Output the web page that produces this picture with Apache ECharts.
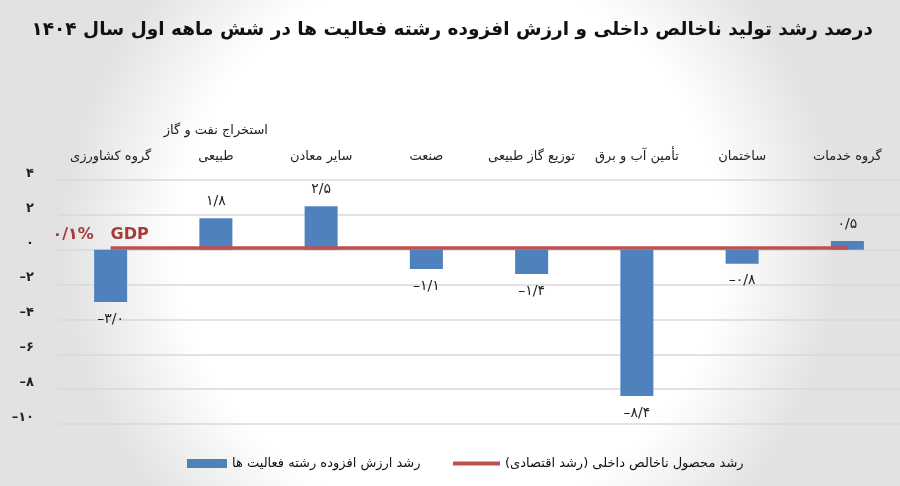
<!DOCTYPE html>
<html>
<head>
<meta charset="utf-8">
<script src="https://cdn.jsdelivr.net/npm/echarts@6/dist/echarts.min.js"></script>
<style>
html, body { margin: 0; padding: 0; }
#chart { width: 900px; height: 486px; }
</style>
</head>
<body>
<div id="chart"></div>
<script>
/* داده ها */
var categories = ['گروه کشاورزی', 'استخراج نفت و گاز\nطبیعی', 'سایر معادن', 'صنعت',
    'توزیع گاز طبیعی', 'تأمین آب و برق', 'ساختمان', 'گروه خدمات'];
var sectorGrowth = [-3.0, 1.8, 2.5, -1.1, -1.4, -8.4, -0.8, 0.5];
var gdpGrowth = [0.1, 0.1, 0.1, 0.1, 0.1, 0.1, 0.1, 0.1];
var yTicks = { min: -10, max: 4, interval: 2 };

var barName = 'رشد ارزش افزوده رشته فعالیت ها';
var lineName = 'رشد محصول ناخالص داخلی (رشد اقتصادی)';
var titleText = 'درصد رشد تولید ناخالص داخلی و ارزش افزوده رشته فعالیت ها در شش ماهه اول سال ۱۴۰۴';

var FONT = 'DejaVu Sans';

/* تبدیل عدد به ارقام فارسی */
function toFa(str) {
    var d = '۰۱۲۳۴۵۶۷۸۹';
    return String(str).replace(/[0-9]/g, function (c) { return d[+c]; });
}
function fmtNum(v, dec) {
    var s = toFa(Math.abs(v).toFixed(dec)).replace('.', '/');
    return v < 0 ? '–' + s : s;
}

/* داده ستون ها با جای برچسب */
var barData = [];
for (var i = 0; i < sectorGrowth.length; i++) {
    barData.push({
        value: sectorGrowth[i],
        label: { position: sectorGrowth[i] >= 0 ? 'top' : 'bottom' }
    });
}
/* خط GDP، برچسب فقط روی نقطه اول */
var lineData = [];
for (var j = 0; j < gdpGrowth.length; j++) {
    if (j === 0) {
        lineData.push({
            value: gdpGrowth[j],
            label: {
                show: true, position: 'top', distance: 5, offset: [-10, 0],
                formatter: function (p) { return fmtNum(p.value, 1) + '%   GDP'; },
                color: '#A33B39', fontSize: 16, fontWeight: 'bold', fontFamily: FONT
            }
        });
    } else {
        lineData.push(gdpGrowth[j]);
    }
}

var myChart = echarts.init(document.getElementById('chart'));
var option = {
    backgroundColor: {
        type: 'radial', x: 0.5, y: 0.5, r: 0.8,
        colorStops: [
            { offset: 0, color: '#ffffff' },
            { offset: 0.7, color: '#ffffff' },
            { offset: 1, color: '#e2e2e2' }
        ]
    },
    textStyle: { fontFamily: FONT },
    title: {
        text: titleText,
        right: 22, top: 16,
        textStyle: { fontSize: 18.5, fontWeight: 'bold', color: '#111', fontFamily: FONT }
    },
    legend: [
        {
            data: [barName],
            left: 182, top: 452,
            icon: 'rect', itemWidth: 40, itemHeight: 9, itemGap: 5,
            textStyle: { fontSize: 13, color: '#111', fontFamily: FONT }
        },
        {
            data: [lineName],
            left: 448, top: 452,
            icon: 'rect', itemWidth: 47, itemHeight: 4, itemGap: 5,
            textStyle: { fontSize: 13, color: '#111', fontFamily: FONT }
        }
    ],
    grid: { left: 58, right: -12, top: 180, bottom: 62 },
    xAxis: {
        type: 'category',
        position: 'top',
        data: categories,
        axisLine: { show: false },
        axisTick: { show: false },
        axisLabel: { interval: 0, margin: 10, fontSize: 13, color: '#222', lineHeight: 26, fontFamily: FONT }
    },
    yAxis: {
        type: 'value',
        min: yTicks.min, max: yTicks.max, interval: yTicks.interval,
        axisLine: { show: false },
        axisTick: { show: false },
        axisLabel: {
            margin: 24, fontSize: 13, color: '#222', fontWeight: 'bold',
            verticalAlign: 'bottom', fontFamily: FONT,
            formatter: function (v) { return fmtNum(v, 0); }
        },
        splitLine: { lineStyle: { color: '#d9d9d9', width: 1.5 } }
    },
    series: [
        {
            name: barName,
            type: 'bar',
            barWidth: 33,
            itemStyle: { color: '#4F81BD' },
            label: {
                show: true, distance: 10, fontSize: 14, color: '#222', fontFamily: FONT,
                formatter: function (p) { return fmtNum(p.value, 1); }
            },
            data: barData
        },
        {
            name: lineName,
            type: 'line',
            symbol: 'circle',
            symbolSize: 0,
            showSymbol: true,
            lineStyle: { color: '#C0504D', width: 3.5 },
            itemStyle: { color: '#C0504D' },
            z: 3,
            data: lineData
        }
    ]
};
myChart.setOption(option);
</script>
</body>
</html>
